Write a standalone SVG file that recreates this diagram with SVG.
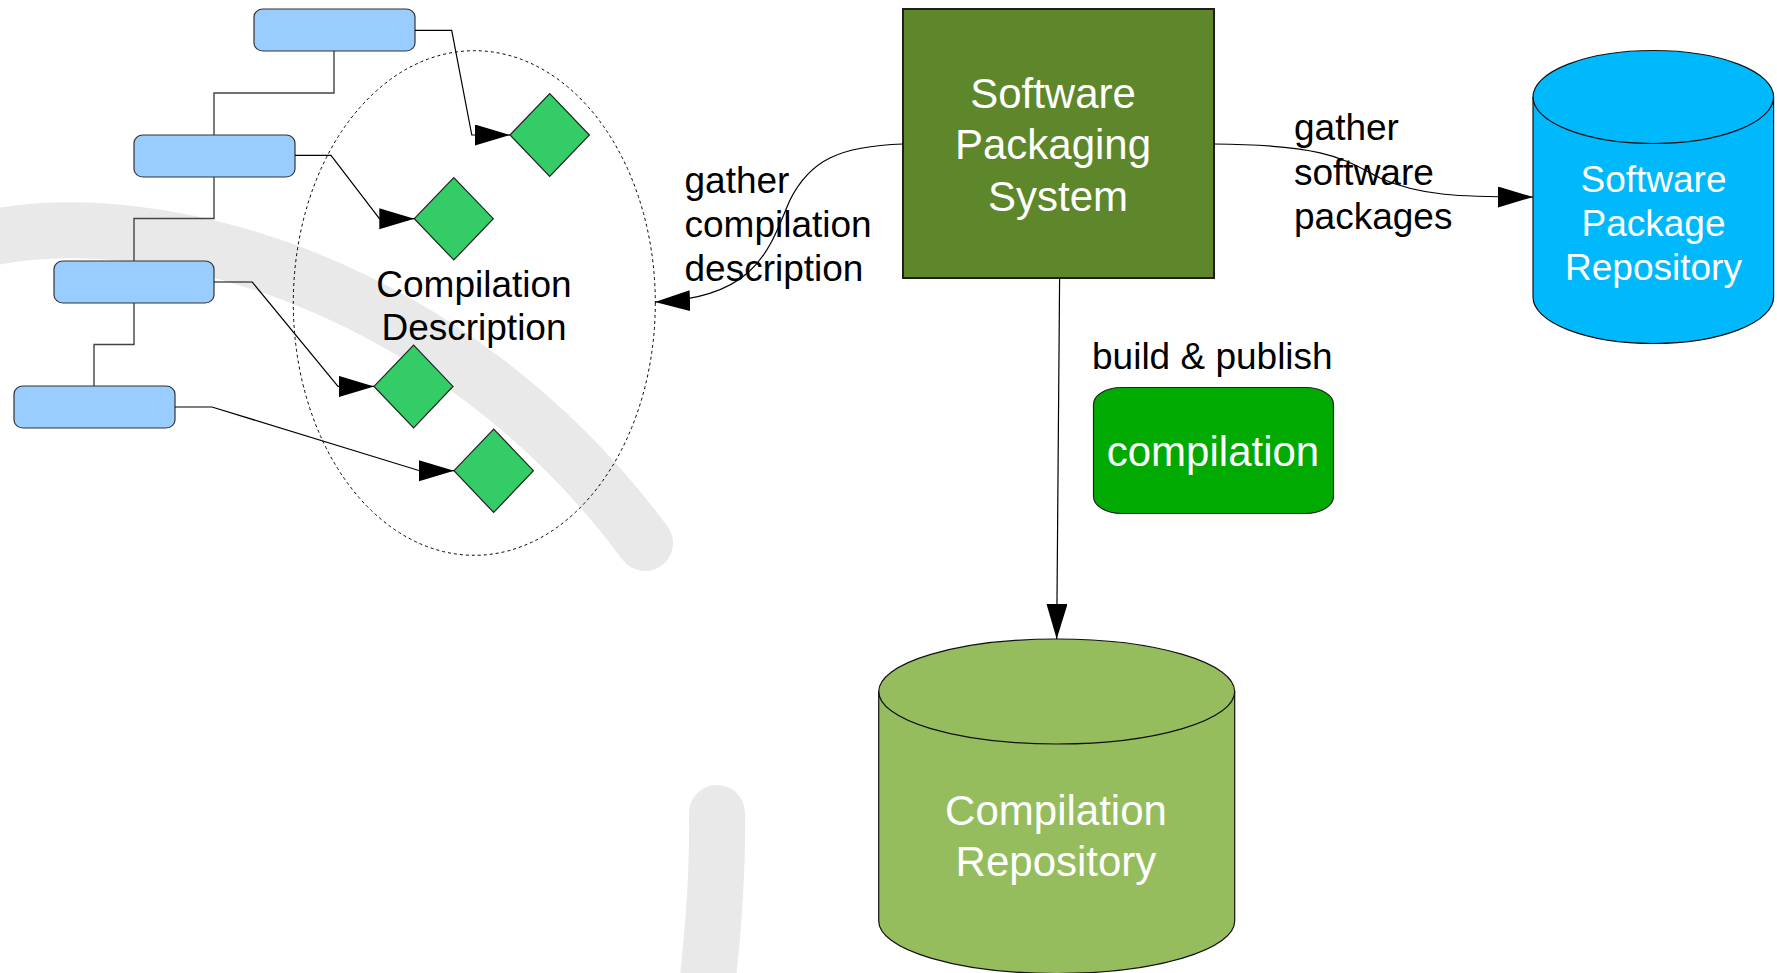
<svg xmlns="http://www.w3.org/2000/svg" width="1777" height="973" viewBox="0 0 1777 973">
<style>
.bg{fill:none;stroke:#e9e9e9;stroke-width:56;stroke-linecap:round}
.tree{fill:none;stroke:#444;stroke-width:1.4}
.conn{fill:none;stroke:#000;stroke-width:1.2}
.blue{fill:#99ccff;stroke:#333;stroke-width:1.2}
.dia{fill:#33cc66;stroke:#222;stroke-width:1.2}
.t{font-family:"Liberation Sans",Arial,sans-serif;text-anchor:middle}
.lbl{font-family:"Liberation Sans",Arial,sans-serif;font-size:37px;fill:#000}
</style>
<defs>
<marker id="arr" markerUnits="userSpaceOnUse" markerWidth="36" markerHeight="22" refX="35" refY="10.5" orient="auto">
<path d="M0,0 L35,10.5 L0,21 Z" fill="#000"/>
</marker>
</defs>
<rect width="1777" height="973" fill="#fff"/>
<g id="background">
<path class="bg" d="M-20,240 C150,200 450,280 645,543"/>
<path class="bg" d="M717,813 C718,880 713,940 704,1010"/>
</g>
<g id="tree-lines">
<polyline class="tree" points="334,51 334,93 214,93 214,135"/>
<polyline class="tree" points="214,177 214,218.5 134,218.5 134,261"/>
<polyline class="tree" points="134,303 134,344.5 94,344.5 94,386"/>
</g>
<g id="blue-boxes">
<rect id="b1" class="blue" x="254" y="9" width="161" height="42" rx="9" ry="8"/>
<rect id="b2" class="blue" x="134" y="135" width="161" height="42" rx="9" ry="8"/>
<rect id="b3" class="blue" x="54" y="261" width="160" height="42" rx="9" ry="8"/>
<rect id="b4" class="blue" x="14" y="386" width="161" height="42" rx="9" ry="8"/>
</g>
<g id="compilation-description">
<ellipse cx="474.3" cy="303" rx="181" ry="252.3" fill="none" stroke="#000" stroke-width="1" stroke-dasharray="3,3"/>
<text class="t" x="474" y="297" font-size="37" fill="#000">Compilation</text>
<text class="t" x="474" y="340" font-size="37" fill="#000">Description</text>
</g>
<g id="diamonds">
<polygon id="d1" class="dia" points="510,135 549.7,93.6 589.4,135 549.7,176.4"/>
<polygon id="d2" class="dia" points="414.3,218.7 453.8,177.5 493.3,218.7 453.8,260"/>
<polygon id="d3" class="dia" points="374,386.4 413.6,345 453,386.4 413.6,427.8"/>
<polygon id="d4" class="dia" points="454,470.7 493.7,429 533.4,470.7 493.7,512.5"/>
</g>
<g id="sps">
<rect x="903" y="9" width="311" height="269" fill="#5d872a" stroke="#1e1e1e" stroke-width="2"/>
<text class="t" x="1053" y="108" font-size="42" fill="#fff">Software</text>
<text class="t" x="1053" y="159" font-size="42" fill="#fff">Packaging</text>
<text class="t" x="1058" y="211" font-size="42" fill="#fff">System</text>
</g>
<g id="spr">
<path d="M1533,97 A120.3,46.5 0 0 1 1773.6,97 L1773.6,297 A120.3,46.5 0 0 1 1533,297 Z" fill="#00b9fd" stroke="#111" stroke-width="1.2"/>
<path d="M1533,97 A120.3,46.5 0 0 0 1773.6,97" fill="none" stroke="#111" stroke-width="1.2"/>
<text class="t" x="1653.5" y="192" font-size="37" fill="#fff">Software</text>
<text class="t" x="1653.5" y="236" font-size="37" fill="#fff">Package</text>
<text class="t" x="1653.5" y="280" font-size="37" fill="#fff">Repository</text>
</g>
<g id="compilation">
<rect x="1093.5" y="387.5" width="240" height="126" rx="28" ry="17" fill="#00aa00" stroke="#222" stroke-width="1.2"/>
<text class="t" x="1213" y="466" font-size="42" fill="#fff">compilation</text>
</g>
<g id="compilation-repository">
<path d="M878.7,691.5 A178,52.5 0 0 1 1234.7,691.5 L1234.7,921 A178,52.5 0 0 1 878.7,921 Z" fill="#95bd5e" stroke="#111" stroke-width="1.2"/>
<path d="M878.7,691.5 A178,52.5 0 0 0 1234.7,691.5" fill="none" stroke="#111" stroke-width="1.2"/>
<text class="t" x="1056" y="825" font-size="42" fill="#fff">Compilation</text>
<text class="t" x="1056" y="876" font-size="42" fill="#fff">Repository</text>
</g>
<g id="connectors">
<polyline class="conn" points="415,30.4 451.7,30.4 471.8,135 510,135" marker-end="url(#arr)"/>
<polyline class="conn" points="295,155.3 331,155.3 379.4,218.7 414.3,218.7" marker-end="url(#arr)"/>
<polyline class="conn" points="214,282 252.2,282 338,386.4 374,386.4" marker-end="url(#arr)"/>
<polyline class="conn" points="175,407 212,407 419.6,470.7 454,470.7" marker-end="url(#arr)"/>
<path class="conn" d="M903,144 C840,146 810,160 790,200 C770,245 760,298 655,302" marker-end="url(#arr)"/>
<path class="conn" d="M1214,144 C1330,145 1345,160 1380,178 C1420,196 1460,197 1533,197" marker-end="url(#arr)"/>
<path class="conn" d="M1059.6,278 L1056.7,639" marker-end="url(#arr)"/>
</g>
<g id="labels">
<text class="lbl" x="684.5" y="193">gather</text>
<text class="lbl" x="684.5" y="237">compilation</text>
<text class="lbl" x="684.5" y="281">description</text>
<text class="lbl" x="1294" y="140">gather</text>
<text class="lbl" x="1294" y="185">software</text>
<text class="lbl" x="1294" y="229">packages</text>
<text class="lbl" x="1092" y="369">build &amp; publish</text>
</g>
</svg>
